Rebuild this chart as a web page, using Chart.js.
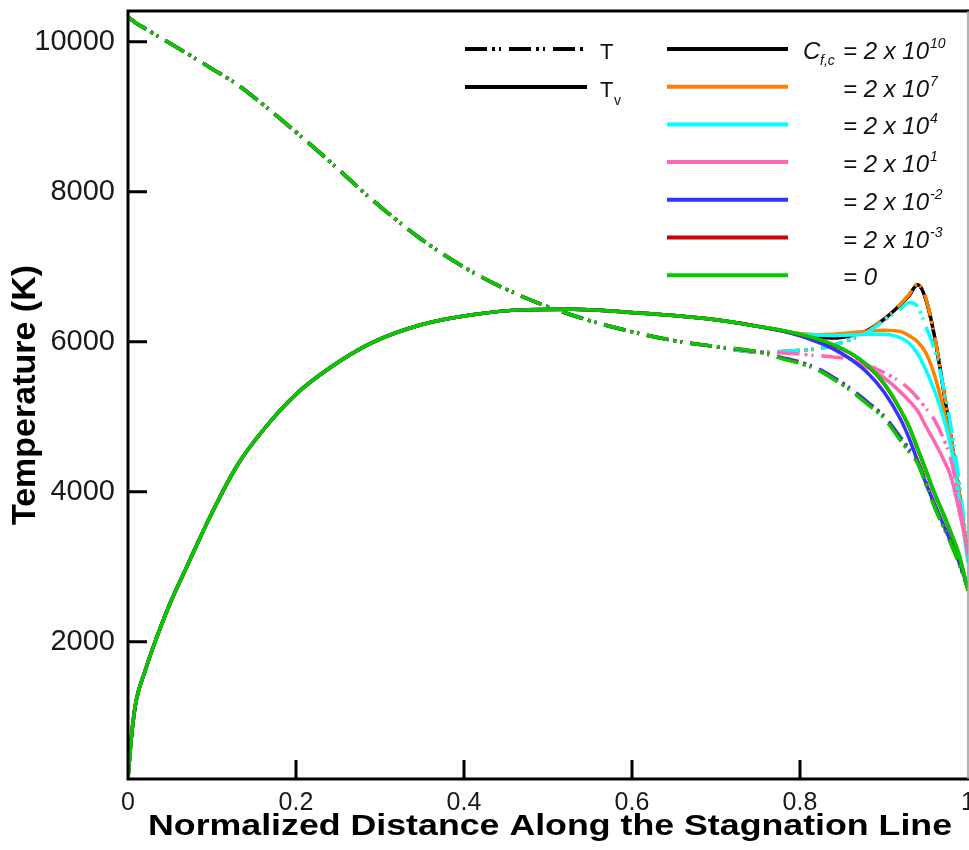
<!DOCTYPE html>
<html>
<head>
<meta charset="utf-8">
<title>Temperatura a lo largo de la línea de estancamiento</title>
<script src="https://cdn.jsdelivr.net/npm/chart.js@4.4.1/dist/chart.umd.min.js"></script>
<style>
  html, body { margin: 0; padding: 0; background: #fff; overflow: hidden; }
  #wrap { width: 1000px; height: 850px; }
</style>
</head>
<body>
<div id="wrap"><canvas id="grafico" width="1000" height="850"></canvas></div>
<script>
// =========================================================================================
// DATOS
// =========================================================================================

// Tramo común de todas las curvas (x <= 0.75)
const X_HEAD = [0, 0.003, 0.006, 0.01, 0.02, 0.03, 0.05, 0.07, 0.1, 0.13, 0.16, 0.2, 0.24, 0.29, 0.35, 0.41, 0.47, 0.53, 0.59, 0.65, 0.7, 0.75];
const T_HEAD  = [10330, 10305, 10280, 10245, 10180, 10110, 9980, 9845, 9640, 9430, 9170, 8795, 8405, 7900, 7360, 6930, 6600, 6350, 6160, 6015, 5935, 5865];
const TV_HEAD = [180, 600, 930, 1230, 1600, 1930, 2510, 3000, 3720, 4350, 4810, 5300, 5650, 5985, 6230, 6360, 6425, 6432, 6398, 6350, 6293, 6205];

// Tramo cercano a la pared, donde las curvas se separan
const X_TAIL = [0.78, 0.8, 0.82, 0.84, 0.86, 0.88, 0.9, 0.92, 0.93, 0.94, 0.95, 0.96, 0.97, 0.98, 0.99, 1.0];

const T_2E10  = [5870, 5885, 5905, 5955, 6030, 6130, 6300, 6500, 6620, 6760, 6560, 6080, 5420, 4700, 3950, 3100];
const TV_2E10 = [6145, 6090, 6060, 6050, 6080, 6150, 6300, 6500, 6620, 6760, 6560, 6080, 5420, 4700, 3950, 3100];
const T_2E7   = [5870, 5885, 5905, 5955, 6030, 6135, 6305, 6505, 6630, 6770, 6570, 6090, 5430, 4710, 3960, 3100];
const TV_2E7  = [6145, 6110, 6095, 6100, 6120, 6140, 6155, 6135, 6080, 6000, 5850, 5560, 5140, 4650, 3950, 3100];
const T_2E4   = [5870, 5885, 5905, 5950, 6030, 6120, 6280, 6440, 6520, 6470, 6200, 5900, 5440, 4850, 4100, 3150];
const TV_2E4  = [6145, 6100, 6090, 6085, 6090, 6100, 6100, 6050, 5980, 5840, 5620, 5350, 5020, 4570, 3850, 3050];
const T_2E1   = [5850, 5835, 5815, 5795, 5770, 5690, 5590, 5460, 5370, 5250, 5110, 4960, 4730, 4420, 3850, 3150];
const TV_2E1  = [6145, 6085, 6010, 5900, 5770, 5660, 5520, 5325, 5210, 5080, 4870, 4670, 4450, 4190, 3720, 3200];
const T_2EM2  = [5785, 5730, 5650, 5525, 5380, 5200, 5010, 4720, 4570, 4410, 4130, 3830, 3570, 3310, 3030, 2710];
const TV_2EM2 = [6140, 6080, 6000, 5905, 5770, 5590, 5330, 4960, 4710, 4410, 4110, 3840, 3580, 3320, 3040, 2720];
const T_2EM3  = [5775, 5715, 5635, 5505, 5355, 5175, 4985, 4685, 4535, 4385, 4105, 3805, 3555, 3305, 3025, 2705];
const TV_2EM3 = [6145, 6095, 6035, 5955, 5845, 5685, 5440, 5080, 4860, 4570, 4280, 3980, 3720, 3440, 3130, 2680];
const T_0     = [5770, 5710, 5630, 5500, 5350, 5170, 4980, 4680, 4530, 4380, 4100, 3800, 3550, 3300, 3020, 2700];
const TV_0    = [6150, 6100, 6040, 5960, 5850, 5690, 5450, 5090, 4870, 4580, 4290, 3990, 3730, 3450, 3140, 2680];

// Ejes
const X_TICKS = [0, 0.2, 0.4, 0.6, 0.8, 1];
const Y_TICKS = [2000, 4000, 6000, 8000, 10000];
const Y_MIN = 170;
const Y_MAX = 10410;
const X_TITULO = 'Normalized Distance Along the Stagnation Line';
const Y_TITULO = 'Temperature (K)';

// Casos C_f,c (exponente de 2 x 10^n; null = 0)
const CASOS = [
    { exp: '10', color: '#000000', t: T_2E10, tv: TV_2E10 },
    { exp: '7',  color: '#ff8000', t: T_2E7,  tv: TV_2E7 },
    { exp: '4',  color: '#00ffff', t: T_2E4,  tv: TV_2E4 },
    { exp: '1',  color: '#ff66b3', t: T_2E1,  tv: TV_2E1 },
    { exp: '-2', color: '#3333ff', t: T_2EM2, tv: TV_2EM2 },
    { exp: '-3', color: '#cc0000', t: T_2EM3, tv: TV_2EM3 },
    { exp: null, color: '#00cc00', t: T_0,    tv: TV_0 }
];

const FUENTE = '"Liberation Sans", Arial, Helvetica, sans-serif';
const DASH_T = [22, 5, 3, 4, 2, 8];
const X_ALL = [...X_HEAD, ...X_TAIL];

function puntos(valores) {
    return X_ALL.map((x, i) => ({ x: x, y: valores[i] }));
}

// =========================================================================================
// CONSTRUCCIÓN DE SERIES
// =========================================================================================
const datasets = [];
CASOS.forEach((caso, k) => {
    const nombre = caso.exp === null ? 'Cf,c = 0' : `Cf,c = 2 x 10^${caso.exp}`;
    const ordenBase = 2 * (CASOS.length - k);
    datasets.push({
        label: `T (${nombre})`,
        data: puntos([...T_HEAD, ...caso.t]),
        borderColor: caso.color,
        borderWidth: 3.5,
        borderDash: DASH_T,
        pointRadius: 0,
        cubicInterpolationMode: 'monotone',
        fill: false,
        order: ordenBase
    });
    datasets.push({
        label: `Tv (${nombre})`,
        data: puntos([...TV_HEAD, ...caso.tv]),
        borderColor: caso.color,
        borderWidth: 3.5,
        pointRadius: 0,
        cubicInterpolationMode: 'monotone',
        fill: false,
        order: ordenBase - 1
    });
});

// Marco, marcas hacia dentro, título del eje X y leyenda propia
const marcoPlugin = {
    id: 'marco',
    afterDraw(chart) {
        const ctx = chart.ctx;
        const area = chart.chartArea;
        const xs = chart.scales.x;
        const ys = chart.scales.y;
        ctx.save();

        // marco
        ctx.strokeStyle = '#000';
        ctx.lineWidth = 3;
        ctx.beginPath();
        ctx.moveTo(area.left, area.top);
        ctx.lineTo(area.right + 2, area.top);
        ctx.moveTo(area.left, area.top - 1.5);
        ctx.lineTo(area.left, area.bottom + 1.5);
        ctx.moveTo(area.left - 1.5, area.bottom);
        ctx.lineTo(area.right + 2, area.bottom);
        ctx.stroke();
        ctx.strokeStyle = '#999';
        ctx.lineWidth = 1.5;
        ctx.beginPath();
        ctx.moveTo(area.right, area.top);
        ctx.lineTo(area.right, area.bottom);
        ctx.stroke();

        // marcas
        ctx.strokeStyle = '#000';
        ctx.lineWidth = 3;
        ctx.beginPath();
        Y_TICKS.forEach(v => {
            const y = ys.getPixelForValue(v);
            ctx.moveTo(area.left, y);
            ctx.lineTo(area.left + 19, y);
        });
        X_TICKS.slice(1, -1).forEach(v => {
            const x = xs.getPixelForValue(v);
            ctx.moveTo(x, area.bottom);
            ctx.lineTo(x, area.bottom - 19);
        });
        ctx.stroke();

        // título del eje X (algo ensanchado, como en la figura)
        ctx.fillStyle = '#000';
        ctx.font = `bold 30px ${FUENTE}`;
        ctx.textAlign = 'center';
        ctx.textBaseline = 'alphabetic';
        const anchoTitulo = ctx.measureText(X_TITULO).width;
        const estirar = 804 / anchoTitulo;
        ctx.save();
        ctx.translate((area.left + area.right) / 2 + 2, 835);
        ctx.scale(estirar, 1);
        ctx.fillText(X_TITULO, 0, 0);
        ctx.restore();

        // leyenda: tipos de línea
        const linea = (x0, x1, y, color, dash) => {
            ctx.strokeStyle = color;
            ctx.lineWidth = 4;
            ctx.setLineDash(dash);
            ctx.beginPath();
            ctx.moveTo(x0, y);
            ctx.lineTo(x1, y);
            ctx.stroke();
            ctx.setLineDash([]);
        };
        linea(465, 587, 49, '#000', DASH_T);
        linea(465, 587, 87, '#000', []);
        ctx.fillStyle = '#111';
        ctx.textAlign = 'left';
        ctx.font = `22px ${FUENTE}`;
        ctx.fillText('T', 600, 59);
        ctx.fillText('T', 600, 97);
        ctx.font = `14px ${FUENTE}`;
        ctx.fillText('v', 614, 105);

        // leyenda: casos
        CASOS.forEach((caso, i) => {
            const y = 49 + i * 37.7;
            linea(667, 788, y, caso.color, []);
            const base = y + 10;
            ctx.fillStyle = '#111';
            ctx.font = `italic 24px ${FUENTE}`;
            if (caso.exp === null) {
                ctx.fillText('= 0', 843, base);
            } else {
                ctx.fillText('= 2 x 10', 843, base);
                const w = ctx.measureText('= 2 x 10').width;
                ctx.font = `italic 14px ${FUENTE}`;
                ctx.fillText(caso.exp, 843 + w + 1, base - 11);
            }
        });
        ctx.font = `italic 24px ${FUENTE}`;
        ctx.fillText('C', 803, 59);
        ctx.font = `italic 14px ${FUENTE}`;
        ctx.fillText('f,c', 820, 65);

        ctx.restore();
    }
};

new Chart(document.getElementById('grafico').getContext('2d'), {
    type: 'line',
    data: { datasets: datasets },
    options: {
        responsive: false,
        animation: false,
        events: [],
        layout: { padding: { left: 0, right: 32, top: 11, bottom: 0 } },
        plugins: {
            legend: { display: false },
            tooltip: { enabled: false }
        },
        scales: {
            x: {
                type: 'linear',
                min: 0,
                max: 1,
                grid: { display: false, drawTicks: false },
                border: { display: false },
                afterBuildTicks: scale => { scale.ticks = X_TICKS.map(v => ({ value: v })); },
                afterFit: scale => {
                    scale.height = 71;
                    scale.paddingLeft = 0;
                    scale.paddingRight = 0;
                },
                ticks: {
                    autoSkip: false,
                    maxRotation: 0,
                    padding: 9,
                    color: '#1a1a1a',
                    font: { size: 25, family: FUENTE },
                    callback: value => String(value)
                },
                title: { display: false }
            },
            y: {
                type: 'linear',
                min: Y_MIN,
                max: Y_MAX,
                grid: { display: false, drawTicks: false },
                border: { display: false },
                afterBuildTicks: scale => { scale.ticks = Y_TICKS.map(v => ({ value: v })); },
                afterFit: scale => {
                    scale.width = 128;
                    scale.paddingTop = 0;
                    scale.paddingBottom = 0;
                },
                ticks: {
                    autoSkip: false,
                    padding: 13,
                    color: '#1a1a1a',
                    font: { size: 29, family: FUENTE },
                    callback: value => String(value)
                },
                title: {
                    display: true,
                    text: Y_TITULO,
                    color: '#000',
                    font: { size: 34, weight: 'bold', family: FUENTE },
                    padding: { top: 5, bottom: 0 }
                }
            }
        }
    },
    plugins: [marcoPlugin]
});
</script>
</body>
</html>
